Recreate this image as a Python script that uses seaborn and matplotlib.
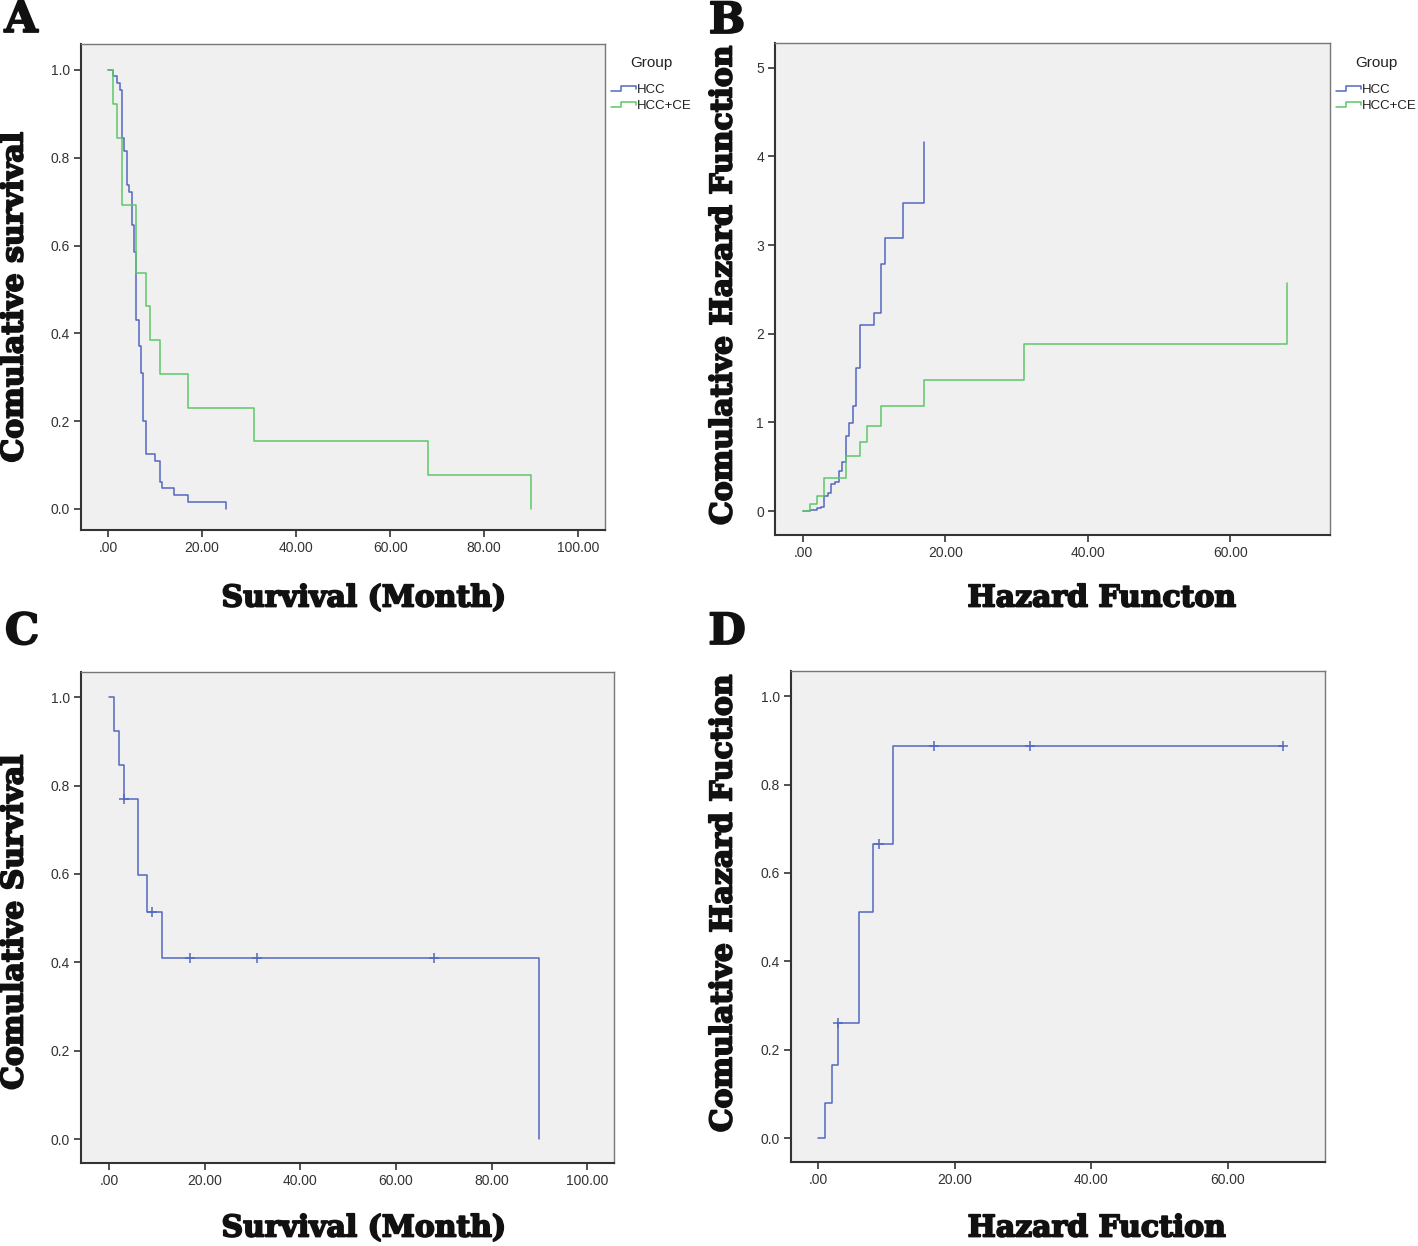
import numpy as np
import pandas as pd
import matplotlib
matplotlib.use("Agg")
import matplotlib.pyplot as plt
import matplotlib.patheffects as pe
import seaborn as sns
from matplotlib.ticker import FuncFormatter
from matplotlib.legend_handler import HandlerLine2D
from matplotlib.lines import Line2D

# ---------------- data ----------------
# Panel A: Kaplan-Meier survival by group
hcc_time = [0, 1, 2, 2.5, 3, 3.5, 4, 4.5, 5, 5.5, 6, 6.5, 7, 7.5, 8, 10, 11, 11.5, 14, 17, 25]
hcc_surv = [1.0, 0.986, 0.970, 0.954, 0.846, 0.816, 0.738, 0.723, 0.646, 0.586, 0.431,
            0.370, 0.309, 0.200, 0.124, 0.109, 0.062, 0.048, 0.031, 0.015, 0.0]
ce_time = [0, 1, 2, 3, 6, 8, 9, 11, 17, 31, 68, 90]
ce_surv = [1.0, 0.923, 0.846, 0.692, 0.538, 0.462, 0.385, 0.308, 0.231, 0.154, 0.077, 0.0]

# Panel B: cumulative hazard by group
hcc_haz_time = [0, 1, 2, 2.5, 3, 3.5, 4, 4.5, 5, 5.5, 6, 6.5, 7, 7.5, 8, 10, 11, 11.5, 14, 17]
hcc_haz = [0, 0.014, 0.030, 0.047, 0.165, 0.20, 0.30, 0.33, 0.447, 0.549, 0.846, 0.996,
           1.184, 1.613, 2.094, 2.229, 2.786, 3.075, 3.477, 4.16]
ce_haz_time = [0, 1, 2, 3, 6, 8, 9, 11, 17, 31, 68]
ce_haz = [0, 0.083, 0.169, 0.368, 0.62, 0.778, 0.959, 1.184, 1.475, 1.88, 2.57]

# Panel C: survival with censoring
c_time = [0, 1, 2, 3, 6, 8, 11, 90]
c_surv = [1.0, 0.923, 0.846, 0.769, 0.598, 0.513, 0.41, 0.0]
c_cens_time = [3, 9, 17, 31, 68]
c_cens_surv = [0.769, 0.513, 0.41, 0.41, 0.41]

# Panel D: cumulative hazard with censoring
d_time = [0, 1, 2, 3, 6, 8, 11, 68]
d_haz = [0, 0.079, 0.165, 0.261, 0.512, 0.666, 0.888, 0.888]
d_cens_time = [3, 9, 17, 31, 68]
d_cens_haz = [0.261, 0.666, 0.888, 0.888, 0.888]

group_labels = ["HCC", "HCC+CE"]
xticks_long = [0, 20, 40, 60, 80, 100]
xticks_short = [0, 20, 40, 60]
yticks_frac = [0.0, 0.2, 0.4, 0.6, 0.8, 1.0]
yticks_haz = [0, 1, 2, 3, 4, 5]

# ---------------- style ----------------
sns.set_style("white")
plt.rcParams["font.family"] = ["Liberation Sans", "DejaVu Sans"]

BLUE = "#5468c2"
GREEN = "#5cc868"
BG = "#f0f0f0"
SLAB = dict(family="DejaVu Serif", weight="bold", color="#111111")
HEAVY = [pe.withStroke(linewidth=1.3, foreground="#111111")]

W, H = 1418, 1246
fig = plt.figure(figsize=(W / 100, H / 100), dpi=100)
fig.patch.set_facecolor("white")


def px_axes(l, t, r, b):
    return fig.add_axes([l / W, 1 - b / H, (r - l) / W, (b - t) / H])


class StepHandler(HandlerLine2D):
    def create_artists(self, legend, orig_handle, xdescent, ydescent, width, height,
                       fontsize, trans):
        x0 = -xdescent
        y0 = -ydescent
        xs = [x0, x0 + 0.42 * width, x0 + 0.42 * width, x0 + width, x0 + width]
        ys = [y0 + 0.2 * height, y0 + 0.2 * height, y0 + 0.75 * height,
              y0 + 0.75 * height, y0 + 0.45 * height]
        ln = Line2D(xs, ys, color=orig_handle.get_color(), lw=1.1)
        ln.set_transform(trans)
        return [ln]


def style_axes(ax, xlim, ylim, xticks, yticks, yfmt):
    ax.set_facecolor(BG)
    ax.set_xlim(*xlim)
    ax.set_ylim(*ylim)
    ax.set_xticks(xticks)
    ax.set_yticks(yticks)
    ax.xaxis.set_major_formatter(FuncFormatter(
        lambda v, p: ("%.2f" % v)[1:] if abs(v) < 1e-9 else "%.2f" % v))
    ax.yaxis.set_major_formatter(FuncFormatter(yfmt))
    ax.tick_params(axis="both", direction="out", length=5, width=1.2,
                   colors="#333333", labelsize=10, pad=3,
                   bottom=True, left=True, top=False, right=False)
    for s in ["top", "right"]:
        ax.spines[s].set_color("#777777")
        ax.spines[s].set_linewidth(1.0)
    for s in ["left", "bottom"]:
        ax.spines[s].set_color("#333333")
        ax.spines[s].set_linewidth(1.5)
    ax.set_xlabel("")
    ax.set_ylabel("")


frac_fmt = lambda v, p: "%.1f" % v
int_fmt = lambda v, p: "%d" % round(v)

# ---------------- Panel A ----------------
axA = px_axes(81, 44, 605, 530)
sns.lineplot(x=hcc_time, y=hcc_surv, ax=axA, color=BLUE, lw=1.1,
             drawstyle="steps-post", estimator=None, sort=False, label=group_labels[0])
sns.lineplot(x=ce_time, y=ce_surv, ax=axA, color=GREEN, lw=1.1,
             drawstyle="steps-post", estimator=None, sort=False, label=group_labels[1])
style_axes(axA, (-5.75, 105.7), (-0.048, 1.059), xticks_long, yticks_frac, frac_fmt)

# ---------------- Panel B ----------------
axB = px_axes(775, 43, 1330, 535)
sns.lineplot(x=hcc_haz_time, y=hcc_haz, ax=axB, color=BLUE, lw=1.1,
             drawstyle="steps-post", estimator=None, sort=False, label=group_labels[0])
sns.lineplot(x=ce_haz_time, y=ce_haz, ax=axB, color=GREEN, lw=1.1,
             drawstyle="steps-post", estimator=None, sort=False, label=group_labels[1])
style_axes(axB, (-3.93, 74.0), (-0.27, 5.28), xticks_short, yticks_haz, int_fmt)

for ax, anchor_x in [(axA, 608), (axB, 1333)]:
    leg = ax.legend(handler_map={Line2D: StepHandler()}, title="Group",
                    loc="upper left", frameon=False, fontsize=9.5,
                    title_fontsize=11, handlelength=1.9, handletextpad=0.1,
                    labelspacing=0.3, borderpad=0.2, borderaxespad=0,
                    bbox_to_anchor=(anchor_x / W, 1 - 53 / H),
                    bbox_transform=fig.transFigure)
    for t in leg.get_texts():
        t.set_color("#222222")
    leg.get_title().set_color("#222222")
    leg._legend_box.sep = 10

# ---------------- Panel C ----------------
axC = px_axes(81, 672, 614, 1163)
sns.lineplot(x=c_time, y=c_surv, ax=axC, color=BLUE, lw=1.1,
             drawstyle="steps-post", estimator=None, sort=False, legend=False)
sns.scatterplot(x=c_cens_time, y=c_cens_surv, ax=axC, color=BLUE, marker="+",
                s=45, linewidth=1.1, legend=False)
style_axes(axC, (-5.9, 105.6), (-0.054, 1.057), xticks_long, yticks_frac, frac_fmt)

# ---------------- Panel D ----------------
axD = px_axes(791, 671, 1325, 1162)
sns.lineplot(x=d_time, y=d_haz, ax=axD, color=BLUE, lw=1.1,
             drawstyle="steps-post", estimator=None, sort=False, legend=False)
sns.scatterplot(x=d_cens_time, y=d_cens_haz, ax=axD, color=BLUE, marker="+",
                s=45, linewidth=1.1, legend=False)
style_axes(axD, (-3.95, 74.2), (-0.054, 1.057), xticks_short, yticks_frac, frac_fmt)

# ---------------- labels ----------------
def ftext(x, y, s, size, rot=0):
    t = fig.text(x / W, 1 - y / H, s, ha="center", va="center", rotation=rot,
                 fontsize=size, **SLAB)
    t.set_path_effects(HEAVY)

ftext(364, 598, "Survival (Month)", 21.5)
ftext(1102, 598, "Hazard Functon", 21.5)
ftext(364, 1228, "Survival (Month)", 21.5)
ftext(1097, 1228, "Hazard Fuction", 21.5)
ftext(14, 297, "Comulative survival", 21.5, rot=90)
ftext(723, 285, "Comulative Hazard Function", 21.5, rot=90)
ftext(14, 922, "Comulative Survival", 21.5, rot=90)
ftext(723, 903, "Comulative Hazard Fuction", 21.5, rot=90)

ftext(21, 20, "A", 31)
ftext(727, 21, "B", 31)
ftext(22, 632, "C", 31)
ftext(727, 632, "D", 31)

fig.savefig("out.png", dpi=100, facecolor="white")
